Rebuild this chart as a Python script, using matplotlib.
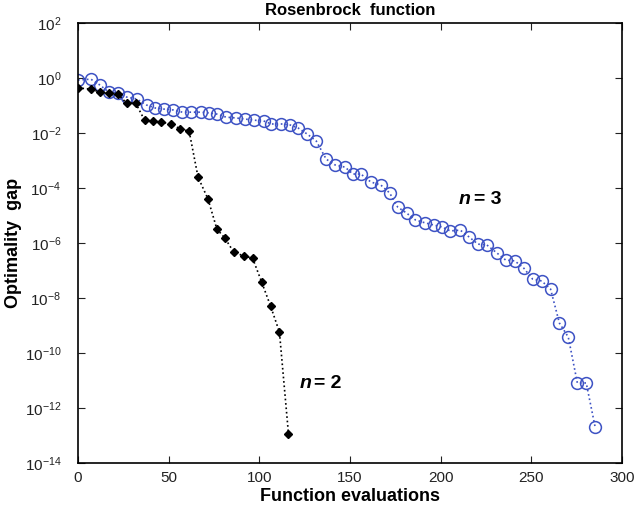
import matplotlib
matplotlib.use("Agg")
import matplotlib.pyplot as plt
import numpy as np

plt.rcParams['font.family'] = ['Liberation Sans', 'DejaVu Sans']
plt.rcParams['mathtext.fontset'] = 'custom'
plt.rcParams['mathtext.rm'] = 'Liberation Sans'
plt.rcParams['mathtext.it'] = 'Liberation Sans:italic'
plt.rcParams['mathtext.bf'] = 'Liberation Sans:bold'

# n = 3 series (blue circles)
x3 = [0, 7.1, 12.0, 17.0, 21.9, 26.8, 32.3, 37.8, 42.7, 47.6, 52.6, 57.5, 62.4, 67.9,
      72.3, 76.6, 81.6, 87.0, 92.0, 96.9, 102.4, 106.7, 112.2, 117.2, 121.5, 126.5,
      131.4, 136.9, 141.8, 147.3, 151.6, 156.0, 161.5, 167.0, 171.9, 176.3, 181.2,
      186.1, 191.6, 196.5, 200.9, 205.3, 210.8, 215.7, 220.6, 225.5, 231.0, 235.9,
      240.9, 245.8, 250.7, 255.7, 260.6, 265.5, 270.4, 275.4, 280.3, 285.2]
log3 = [-0.07, -0.04, -0.25, -0.51, -0.55, -0.69, -0.76, -0.98, -1.09, -1.13, -1.16,
        -1.24, -1.24, -1.24, -1.27, -1.31, -1.42, -1.45, -1.49, -1.53, -1.56, -1.67,
        -1.67, -1.71, -1.82, -2.04, -2.29, -2.95, -3.16, -3.24, -3.49, -3.49, -3.78,
        -3.89, -4.18, -4.69, -4.91, -5.16, -5.27, -5.35, -5.42, -5.56, -5.53, -5.78,
        -6.04, -6.07, -6.36, -6.62, -6.65, -6.91, -7.31, -7.38, -7.67, -8.91, -9.42,
        -11.09, -11.09, -12.69]

# n = 2 series (black diamonds)
x2 = [0, 7.1, 12.0, 17.0, 21.9, 26.8, 31.8, 36.7, 41.1, 46.0, 51.5, 56.4, 61.3, 66.2,
      71.7, 76.6, 81.0, 85.9, 91.4, 96.3, 101.3, 106.2, 111.1, 116.1]
log2 = [-0.36, -0.40, -0.51, -0.55, -0.58, -0.91, -0.91, -1.53, -1.56, -1.60, -1.67,
        -1.85, -1.93, -3.60, -4.40, -5.49, -5.82, -6.33, -6.47, -6.55, -7.42, -8.29,
        -9.24, -12.95]

xticks = [0, 50, 100, 150, 200, 250, 300]
yexps = [2, 0, -2, -4, -6, -8, -10, -12, -14]

y3 = [10.0 ** v for v in log3]
y2 = [10.0 ** v for v in log2]

fig = plt.figure(figsize=(6.34, 5.13), dpi=100)
ax = fig.add_axes([0.123, 0.0975, 0.858, 0.8575])

blue = '#3d52c4'
ax.plot(x3, y3, linestyle=':', color=blue, linewidth=1.2, marker='o', markersize=8.5,
        markerfacecolor='none', markeredgecolor=blue, markeredgewidth=1.1)
ax.plot(x2, y2, linestyle=':', color='black', linewidth=1.2, marker='D', markersize=4.5,
        markerfacecolor='black', markeredgecolor='black')

ax.set_yscale('log')
ax.set_xlim(0, 300)
ax.set_ylim(1e-14, 1e2)
ax.set_xticks(xticks)
ax.set_xticklabels([str(t) for t in xticks])
ax.set_yticks([10.0 ** e for e in yexps])
ax.set_yticklabels([r'$\mathregular{10^{%d}}$' % e for e in yexps])
ax.yaxis.set_minor_locator(matplotlib.ticker.NullLocator())
ax.tick_params(which='both', direction='in', top=True, right=True, length=5,
               labelsize=11, colors='#222222')
ax.tick_params(axis='x', pad=6)
ax.tick_params(axis='y', pad=12)
for s in ax.spines.values():
    s.set_linewidth(1.2)

ax.set_title('Rosenbrock  function', fontsize=12, fontweight='bold', pad=6)
ax.set_xlabel('Function evaluations', fontsize=13, fontweight='bold', labelpad=2)
ax.set_ylabel('Optimality  gap', fontsize=13, fontweight='bold', labelpad=2)

for (tx, ty, lab) in [(210, 10 ** -4.4, '3'), (122, 10 ** -11.1, '2')]:
    ax.text(tx, ty, 'n', fontsize=14, fontweight='bold', style='italic', ha='left', va='center')
    ax.annotate('= ' + lab, xy=(tx, ty), xytext=(11, 0), textcoords='offset points',
                fontsize=14, fontweight='bold', ha='left', va='center')

fig.savefig('out.png', dpi=100)
